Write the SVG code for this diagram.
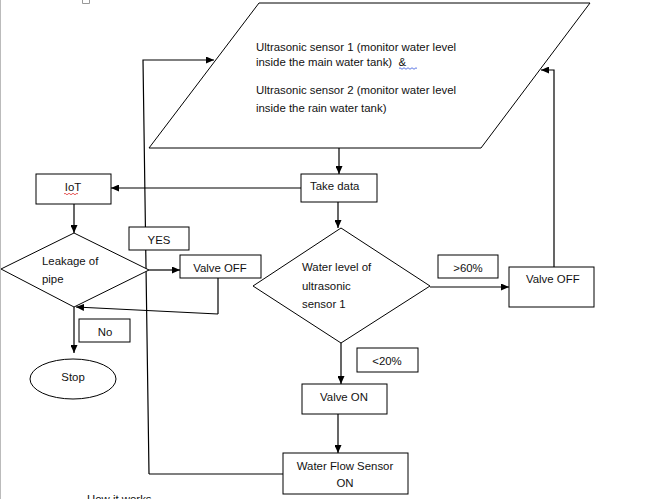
<svg xmlns="http://www.w3.org/2000/svg" width="670" height="499" viewBox="0 0 670 499">
<defs>
<marker id="ah" markerWidth="8" markerHeight="7" refX="8" refY="3.5" orient="auto" markerUnits="userSpaceOnUse">
<path d="M0,0 L8,3.5 L0,7 Z" fill="#000"/>
</marker>
<style>
.s{fill:#fff;stroke:#000;stroke-width:1}
.t{font-family:"Liberation Sans",Arial,sans-serif;font-size:11.4px;fill:#111}
.c{fill:none;stroke:#000;stroke-width:1.2}
.a{fill:none;stroke:#000;stroke-width:1.2;marker-end:url(#ah)}
</style>
</defs>
<rect width="670" height="499" fill="#fff"/>
<line x1="0.5" y1="0" x2="0.5" y2="499" stroke="#bbb" stroke-width="1"/>
<path d="M82.5,0 V3.5 H89.5 V0" fill="none" stroke="#999" stroke-width="1"/>
<g id="connectors">
<path class="a" d="M339,148 V174"/>
<path class="a" d="M301,188 H111"/>
<path class="a" d="M338,202 V228"/>
<path class="a" d="M74,204 V233"/>
<path class="a" d="M149,270 H180"/>
<path class="c" d="M218,278 L218,314"/>
<path class="a" d="M218,314 L76,307"/>
<path class="a" d="M74,307 V353"/>
<path class="a" d="M430,287 H509"/>
<path class="a" d="M554,267 V70 H541"/>
<path class="a" d="M341,343 V384"/>
<path class="a" d="M338,414 V453"/>
<path class="c" d="M283,474 H149"/>
<path class="a" d="M149,474 L143,60 H214"/>
</g>
<g id="input">
<polygon class="s" points="259,3 590,3 481,148 149,148"/>
<text class="t" x="256" y="51">Ultrasonic sensor 1 (monitor water level</text>
<text class="t" x="256" y="66" style="white-space:pre">inside the main water tank)  &amp;</text>
<path d="M399,68.5 q1,-1.5 2,0 t2,0 t2,0 t2,0 t2,0 t2,0 t2,0 t2,0 t2,0" fill="none" stroke="#3355dd" stroke-width="0.8"/>
<text class="t" x="256" y="94">Ultrasonic sensor 2 (monitor water level</text>
<text class="t" x="256" y="112">inside the rain water tank)</text>
</g>
<g id="take-data">
<rect class="s" x="301" y="174" width="76" height="28"/>
<text class="t" x="310" y="190">Take data</text>
</g>
<g id="iot">
<rect class="s" x="36" y="174" width="75" height="30"/>
<text class="t" x="73" y="191" text-anchor="middle">IoT</text>
<path d="M64,194 q1,-1.5 2,0 t2,0 t2,0 t2,0 t2,0 t2,0 t2,0" fill="none" stroke="#e03030" stroke-width="0.8"/>
</g>
<g id="leakage">
<polygon class="s" points="74,233 149,270 74,307 1,269"/>
<text class="t" x="42" y="265">Leakage of</text>
<text class="t" x="42" y="283">pipe</text>
</g>
<g id="yes">
<rect class="s" x="129" y="227" width="60" height="23"/>
<text class="t" x="159" y="244" text-anchor="middle">YES</text>
</g>
<g id="valve-off-left">
<rect class="s" x="180" y="255" width="81" height="23"/>
<text class="t" x="220" y="272" text-anchor="middle">Valve OFF</text>
</g>
<g id="no">
<rect class="s" x="79" y="319" width="51" height="23"/>
<text class="t" x="105" y="336" text-anchor="middle">No</text>
</g>
<g id="stop">
<ellipse class="s" cx="73" cy="379" rx="43" ry="20"/>
<text class="t" x="73" y="381" text-anchor="middle">Stop</text>
</g>
<g id="water-level">
<polygon class="s" points="341,228 430,286 341,343 253,286"/>
<text class="t" x="302" y="271">Water level of</text>
<text class="t" x="302" y="290">ultrasonic</text>
<text class="t" x="302" y="308">sensor 1</text>
</g>
<g id="gt60">
<rect class="s" x="438" y="255" width="60" height="23"/>
<text class="t" x="468" y="272" text-anchor="middle">&gt;60%</text>
</g>
<g id="valve-off-right">
<rect class="s" x="509" y="267" width="85" height="40"/>
<text class="t" x="526" y="283">Valve OFF</text>
</g>
<g id="lt20">
<rect class="s" x="357" y="348" width="61" height="24"/>
<text class="t" x="387" y="365" text-anchor="middle">&lt;20%</text>
</g>
<g id="valve-on">
<rect class="s" x="302" y="384" width="85" height="30"/>
<text class="t" x="344" y="401" text-anchor="middle">Valve ON</text>
</g>
<g id="flow-sensor">
<rect class="s" x="283" y="453" width="125" height="41"/>
<text class="t" x="345" y="470" text-anchor="middle">Water Flow Sensor</text>
<text class="t" x="345" y="487" text-anchor="middle">ON</text>
</g>
<text class="t" x="87" y="503">How it works</text>
</svg>
